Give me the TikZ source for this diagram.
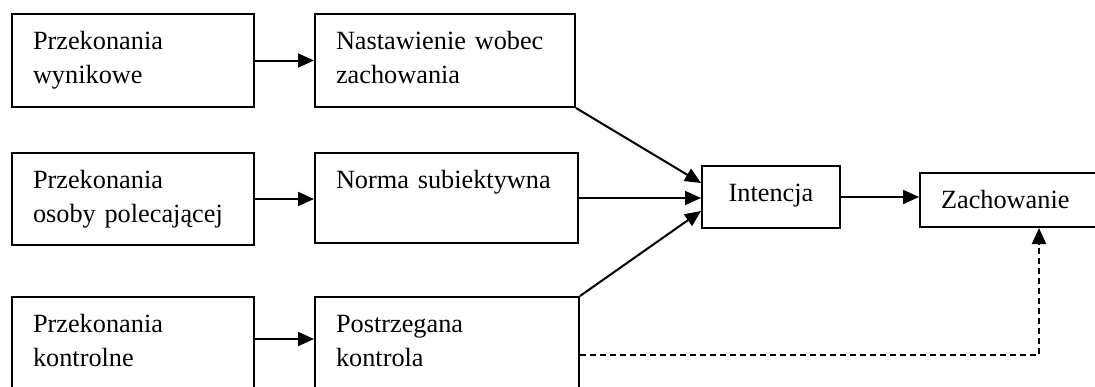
\documentclass[tikz,border=0pt]{standalone}
\usepackage{fontspec}
\setmainfont{Liberation Serif}
\usetikzlibrary{arrows.meta,calc}
\begin{document}
\begin{tikzpicture}[x=1pt,y=-1pt,
  box/.style={draw,line width=2pt,anchor=north west,inner xsep=21pt,inner ysep=11pt,
    text height=24pt,align=left,font=\fontsize{26.3}{34}\selectfont},
  conn/.style={line width=2pt,-{Triangle[length=16pt,width=14pt]}},
  dconn/.style={conn,dash pattern=on 6pt off 4pt}]
\useasboundingbox (0,0) rectangle (1095,386);
\node[box,text width=200pt,text depth=47pt] (b1) at (11,13) {Przekonania\\wynikowe};
\node[box,text width=218pt,text depth=47pt] (b2) at (314,13) {Nastawienie wobec\\zachowania};
\node[box,text width=200pt,text depth=46pt] (b3) at (11,152) {Przekonania\\osoby polecającej};
\node[box,text width=221pt,text depth=44pt] (b4) at (314,152) {Norma subiektywna};
\node[box,text width=200pt,text depth=60pt] (b5) at (11,296) {Przekonania\\kontrolne};
\node[box,text width=222pt,text depth=60pt] (b6) at (314,296) {Postrzegana\\kontrola};
\node[box,text width=96pt,text depth=16pt,align=center] (int) at (701,165) {Intencja};
\node[box,text width=149pt,text depth=8pt] (zach) at (919,172) {Zachowanie};
\coordinate (dz) at ([xshift=120pt]zach.south west);
\draw[conn] (b1.east) -- (b2.west);
\draw[conn] (b3.east) -- (b3.east -| b4.west);
\draw[conn] ([yshift=-43pt]b5.north east) -- ([yshift=-43pt]b5.north east -| b6.west);
\draw[conn] (b2.south east) -- ([yshift=-18pt]int.north west);
\draw[conn] (b4.east) -- (b4.east -| int.west);
\draw[conn] (b6.north east) -- ([yshift=18pt]int.south west);
\draw[conn] (int.east) -- (int.east -| zach.west);
\draw[dconn] ([yshift=-59pt]b6.north east) -| (dz);
\end{tikzpicture}
\end{document}
